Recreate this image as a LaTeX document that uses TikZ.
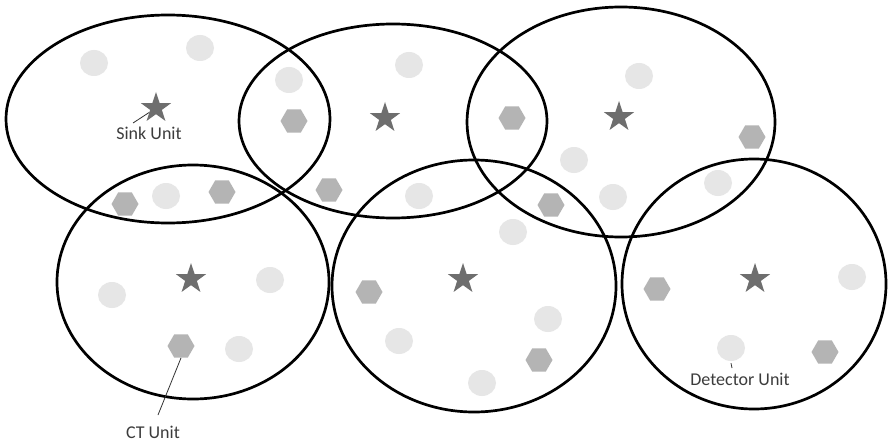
\documentclass[tikz,border=0pt]{standalone}
\usepackage{fontspec}
\setmainfont{Carlito}
\usetikzlibrary{shapes.geometric}
\definecolor{dotlight}{HTML}{E6E6E6}
\definecolor{hexgray}{HTML}{B4B4B4}
\definecolor{stargray}{HTML}{6E6E6E}
\definecolor{txtgray}{HTML}{3C3C3C}
\tikzset{
  ring/.style={draw=black, line width=2.7pt},
  dcirc/.style={ellipse, fill=dotlight, minimum width=28pt, minimum height=26pt, inner sep=0pt},
  dhex/.style={regular polygon, regular polygon sides=6, fill=hexgray, minimum size=27pt, inner sep=0pt},
  sinkstar/.style={star, star points=5, star point ratio=2.6, fill=stargray, minimum size=32pt, inner sep=0pt},
  lbl/.style={text=txtgray, font=\fontsize{18}{20}\selectfont, inner sep=1pt},
  leader/.style={draw=black!80, line width=0.8pt}
}
\begin{document}
\begin{tikzpicture}[x=1pt, y=-1pt]
\useasboundingbox[fill=white] (0,0) rectangle (890,441);
% light circles (detector units)
\foreach \p [count=\i] in {(94,63),(200,48),(289,80),(166,196),(409,65),(419,196),(639,76),(574,160),(613,197),(718,183),(513,232),(112,295),(270,280),(239,349),(548,319),(399,341),(482,383),(852,277)}
  \node[dcirc] (c\i) at \p {};
\node[dcirc] (cdet) at (731,348) {};
% hexagons (CT units)
\foreach \p [count=\i] in {(294,121),(125,204),(222,192),(329,190),(512,118),(551,205),(752,137),(369,292),(539,360),(657,289),(825,352)}
  \node[dhex] (h\i) at \p {};
\node[dhex] (hct) at (181,346) {};
% stars (sink units)
\node[sinkstar] (s1) at (156,108) {};
\node[sinkstar] (s2) at (385,118) {};
\node[sinkstar] (s3) at (619,117) {};
\node[sinkstar] (s4) at (191,279) {};
\node[sinkstar] (s5) at (463,279) {};
\node[sinkstar] (s6) at (755,279) {};
% coverage ellipses
\draw[ring] (168,119) ellipse [x radius=162pt, y radius=104pt];
\draw[ring] (393,121) ellipse [x radius=154pt, y radius=97pt];
\draw[ring] (621,122) ellipse [x radius=154pt, y radius=115pt];
\draw[ring] (193,282) ellipse [x radius=136pt, y radius=117pt];
\draw[ring] (474,286) ellipse [x radius=142pt, y radius=126pt];
\draw[ring] (754,284) ellipse [x radius=132pt, y radius=125pt];
% labels
\node[lbl] (sinklbl) at (149,133) {Sink Unit};
\node[lbl] (ctlbl) at (153,432) {CT Unit};
\node[lbl] (detlbl) at (740,379) {Detector Unit};
\coordinate (sinkA) at (133,123);
\coordinate (ctA) at (158,415);
\coordinate (detA) at (732,368);
\draw[leader] (sinkA) -- (s1);
\draw[leader] (hct.south) -- (ctA);
\draw[leader] ([yshift=-2pt]cdet.south) -- (detA);
\end{tikzpicture}
\end{document}
